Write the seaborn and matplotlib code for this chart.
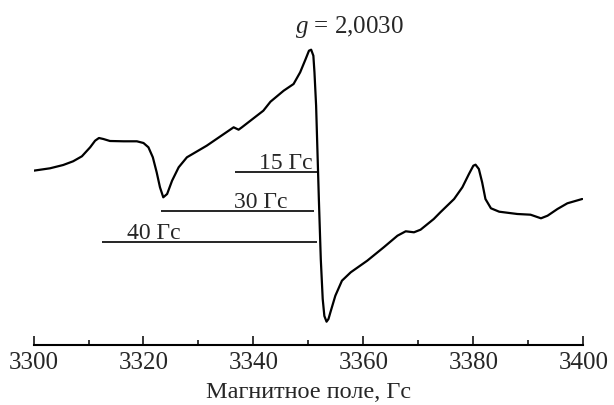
import seaborn as sns
import matplotlib.pyplot as plt
import pandas as pd

# EPR spectrum
field = [3300.0, 3303.0, 3305.4, 3307.2, 3308.8, 3310.3, 3311.2, 3311.9, 3312.7, 3313.9,
         3316.4, 3318.8, 3320.0, 3320.9, 3321.7, 3322.4, 3323.0, 3323.6, 3324.3, 3325.2,
         3326.4, 3327.9, 3331.5, 3336.4, 3337.3, 3337.9, 3341.8, 3343.1, 3345.5, 3347.3,
         3348.5, 3349.5, 3350.1, 3350.5, 3350.9, 3351.1, 3351.4, 3351.9, 3352.25, 3352.6,
         3352.9, 3353.3, 3353.65, 3354.0, 3354.9, 3356.1, 3357.7, 3360.7, 3363.7, 3366.2,
         3367.7, 3369.2, 3370.4, 3372.8, 3374.0, 3376.5, 3378.0, 3379.2, 3380.0, 3380.4,
         3381.0, 3381.6, 3382.2, 3383.2, 3384.7, 3388.0, 3390.4, 3392.3, 3393.5, 3395.3,
         3397.1, 3399.8]
signal = [0.3, 2.7, 6, 9.7, 14.7, 23.7, 30.3, 33, 32, 30,
          29.7, 29.7, 28, 23.7, 13.7, -1.3, -16.3, -26.3, -23, -9.7,
          3.7, 13.7, 25.3, 43.7, 41.3, 43.7, 60.3, 69.3, 80.3, 87,
          98.7, 112, 120.3, 121.3, 115.3, 98.7, 65.3, -28, -88, -128,
          -145, -150.7, -148, -141.3, -124.7, -109.7, -101.3, -89.7, -76.3, -64.7,
          -60.3, -61.3, -58.7, -48, -41.3, -28, -16.3, -3, 5.3, 6.3,
          2, -11.3, -28, -37.3, -40.7, -43, -43.7, -47.3, -44.7, -38,
          -32.3, -28]

# linewidth markers
width_labels = ['15 Гс', '30 Гс', '40 Гс']
width_start = [3336.7, 3323.2, 3312.4]
width_end = [3351.5, 3351.0, 3351.5]
width_level = [-1.3, -39.7, -71.3]

g_text = '$g$ = 2,0030'
xlabel = 'Магнитное поле, Гс'

df = pd.DataFrame({'field': field, 'signal': signal})

sns.set_theme(style='white')
plt.rcParams['font.family'] = ['Liberation Serif', 'DejaVu Serif']
plt.rcParams['mathtext.fontset'] = 'custom'
plt.rcParams['mathtext.rm'] = 'Liberation Serif'
plt.rcParams['mathtext.it'] = 'Liberation Serif:italic'

fig = plt.figure(figsize=(6.14, 4.06), dpi=100)
ax = fig.add_axes([0.0546, 0.1478, 0.8954, 0.8522])

sns.lineplot(data=df, x='field', y='signal', ax=ax, color='black', lw=1.6,
             sort=False, estimator=None)

ax.hlines(width_level, width_start, width_end, color='black', lw=1.2)

# label placement (x of text, ha)
label_x = [3350.7, 3336.4, 3317.0]
label_ha = ['right', 'left', 'left']
for lab, x, ha, lev in zip(width_labels, label_x, label_ha, width_level):
    ax.text(x, lev + 4, lab, ha=ha, va='baseline', fontsize=17)

ax.text(3357.5, 139, g_text, ha='center', va='baseline', fontsize=18)

ax.set_xlim(3300, 3400)
ax.set_ylim(-174, 172)
ax.set_xticks(range(3300, 3401, 20))
ax.set_xticks(range(3310, 3400, 20), minor=True)
ax.set_yticks([])
ax.set_xlabel(xlabel, fontsize=17.5, labelpad=6)
ax.set_ylabel('')
ax.tick_params(axis='x', which='major', direction='in', length=6.5, width=1.1,
               labelsize=18, pad=4, bottom=True, color='black')
ax.tick_params(axis='x', which='minor', direction='in', length=3.6, width=1.1,
               bottom=True, color='black')
for s in ['top', 'left', 'right']:
    ax.spines[s].set_visible(False)
ax.spines['bottom'].set_linewidth(1.5)
ax.spines['bottom'].set_color('black')
ax.patch.set_alpha(0)

fig.savefig('out.png', dpi=100)
